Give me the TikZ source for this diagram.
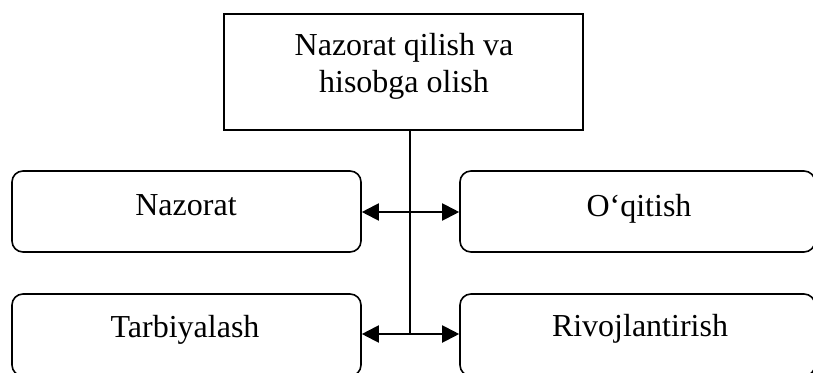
\documentclass[tikz,border=0pt]{standalone}
\usepackage{fontspec}
\setmainfont{Liberation Serif}
\usetikzlibrary{arrows.meta}
\begin{document}
\begin{tikzpicture}[x=1pt,y=-1pt,
  rbox/.style={draw, line width=1.6pt, rounded corners=11pt, inner sep=0pt},
  lbox/.style={rbox, minimum width=349pt},
  rtbox/.style={rbox, minimum width=355pt},
  tbox/.style={draw, line width=1.5pt, minimum width=359pt, minimum height=116pt, inner sep=0pt},
  lbl/.style={anchor=base, inner sep=0pt, font=\fontsize{32}{37}\selectfont},
  conn/.style={line width=1.5pt},
  dbl/.style={line width=2pt, {Triangle[length=17pt,width=17pt]}-{Triangle[length=17pt,width=17pt]}}]
\clip (0,0) rectangle (813,372);
% boxes
\node[tbox] (top) at (403.5,72) {};
\node[lbox, minimum height=81pt] (naz) at (186.5,211.5) {};
\node[rtbox, minimum height=81pt] (oqi) at (637.5,211.5) {};
\node[lbox, minimum height=82pt] (tar) at (186.5,335) {};
\node[rtbox, minimum height=82pt] (riv) at (637.5,335) {};
% texts
\node[lbl] (t1) at (404,55) {Nazorat qilish va};
\node[lbl] (t2) at (404,92) {hisobga olish};
\node[lbl] (tnaz) at (186,215) {Nazorat};
\node[lbl] (toqi) at (639,216) {O‘qitish};
\node[lbl] (ttar) at (185,337) {Tarbiyalash};
\node[lbl] (triv) at (640,336) {Rivojlantirish};
% connectors
\coordinate (j1) at (410,212);
\coordinate (j2) at (410,334);
\draw[conn] (top.south -| j2) -- (j2);
\draw[dbl] (naz.east |- j1) -- (oqi.west |- j1);
\draw[dbl] (tar.east |- j2) -- (riv.west |- j2);
\end{tikzpicture}
\end{document}
